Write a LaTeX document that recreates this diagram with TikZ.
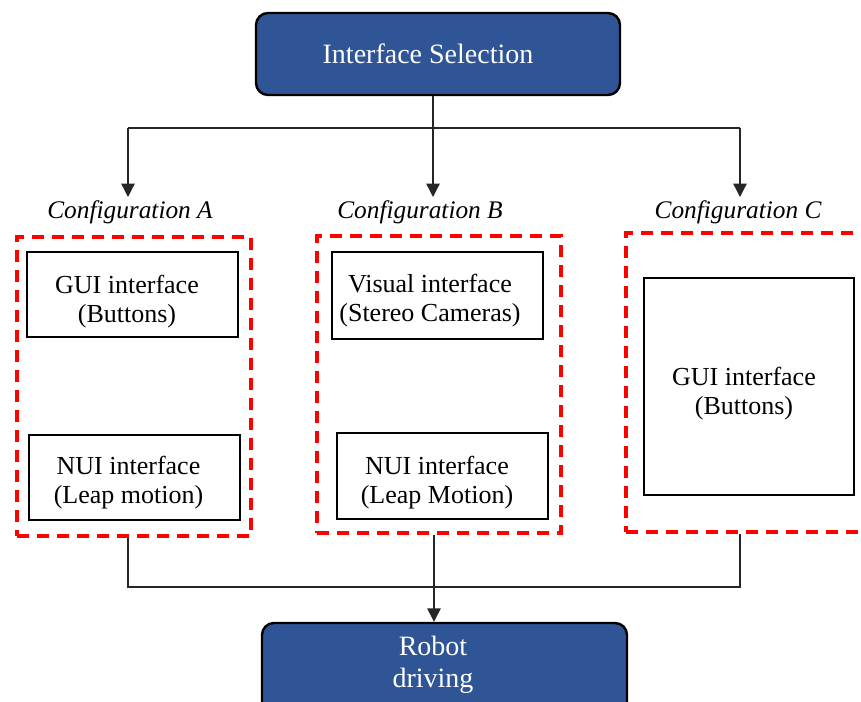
\documentclass[tikz,border=0pt]{standalone}
\usepackage{fontspec}
\setmainfont{Liberation Serif}
\usetikzlibrary{arrows.meta}
\definecolor{boxblue}{HTML}{2F5597}
\begin{document}
\begin{tikzpicture}[x=0.75pt,y=-0.75pt,
  bluebox/.style={draw=black, line width=1.8pt, fill=boxblue, rounded corners=9pt, inner sep=0pt},
  bluetext/.style={text=white, font=\fontsize{21}{24}\selectfont, align=center, inner sep=0pt},
  cfgbox/.style={draw=red, line width=2.3pt, dash pattern=on 9pt off 6pt, inner sep=0pt},
  unitbox/.style={draw=black, line width=1.5pt, inner sep=0pt, minimum width=158.25pt},
  unittext/.style={align=center, inner sep=0pt, font=\fontsize{19.5}{21.75}\selectfont},
  cfglabel/.style={font=\itshape\fontsize{19}{22}\selectfont, inner sep=0pt},
  link/.style={draw=black!85, line width=1pt},
  arrowlink/.style={link, -{Triangle[width=10pt,length=10pt]}}]
\useasboundingbox (0,0) rectangle (861,702);

% top decision block
\node[bluebox, minimum width=273pt, minimum height=61.5pt] (top) at (438,54) {};
\node[bluetext] (toptxt) at (428,54) {Interface Selection};

% configuration labels
\node[cfglabel] (lA) at (130,212) {Configuration A};
\node[cfglabel] (lB) at (420,212) {Configuration B};
\node[cfglabel] (lC) at (738,212) {Configuration C};

% dashed configuration frames
\node[cfgbox, minimum width=175.5pt, minimum height=224.25pt] (cA) at (134,386.5) {};
\node[cfgbox, minimum width=183pt, minimum height=222.75pt] (cB) at (439,384.5) {};
\node[cfgbox, minimum width=190.5pt, minimum height=224.25pt] (cC) at (753,382.5) {};

% interface units
\node[unitbox, minimum height=63.75pt] (a1) at (132.5,294.5) {};
\node[unitbox, minimum height=63.75pt] (a2) at (134.5,477.5) {};
\node[unitbox, minimum height=65.25pt] (b1) at (437.5,295.5) {};
\node[unitbox, minimum height=64.5pt] (b2) at (442.5,476) {};
\node[unitbox, minimum width=157.5pt, minimum height=162.75pt] (c1) at (749,386.5) {};

\node[unittext] (a1txt) at (127,301.5) {GUI interface\\(Buttons)};
\node[unittext] (a2txt) at (128.5,483) {NUI interface\\(Leap motion)};
\node[unittext] (b1txt) at (430,301) {Visual interface\\(Stereo Cameras)};
\node[unittext] (b2txt) at (437,483) {NUI interface\\(Leap Motion)};
\node[unittext] (c1txt) at (744,393.5) {GUI interface\\(Buttons)};

% bottom block
\node[bluebox, minimum width=273.75pt, minimum height=102.75pt] (robot) at (444.5,691.5) {};
\node[bluetext] (robottxt) at (433,665) {Robot\\driving};

% junction points
\coordinate (jA) at (128,128);
\coordinate (jB) at (433,128);
\coordinate (jC) at (740,128);
\coordinate (tA) at (128,197);
\coordinate (tB) at (433,197);
\coordinate (tC) at (740,197);
\coordinate (kA) at (128,587);
\coordinate (kB) at (434,587);
\coordinate (kC) at (740,587);

% fan-out from the selection block
\draw[link] (jA) -- (jC);
\draw[arrowlink] (top.south -| jB) -- (tB);
\draw[arrowlink] (jA) -- (tA);
\draw[arrowlink] (jC) -- (tC);

% merge into robot driving
\draw[link] (cA.south -| kA) -- (kA) -- (kC) -- (cC.south -| kC);
\draw[arrowlink] (cB.south -| kB) -- (kB |- robot.north);
\end{tikzpicture}
\end{document}
